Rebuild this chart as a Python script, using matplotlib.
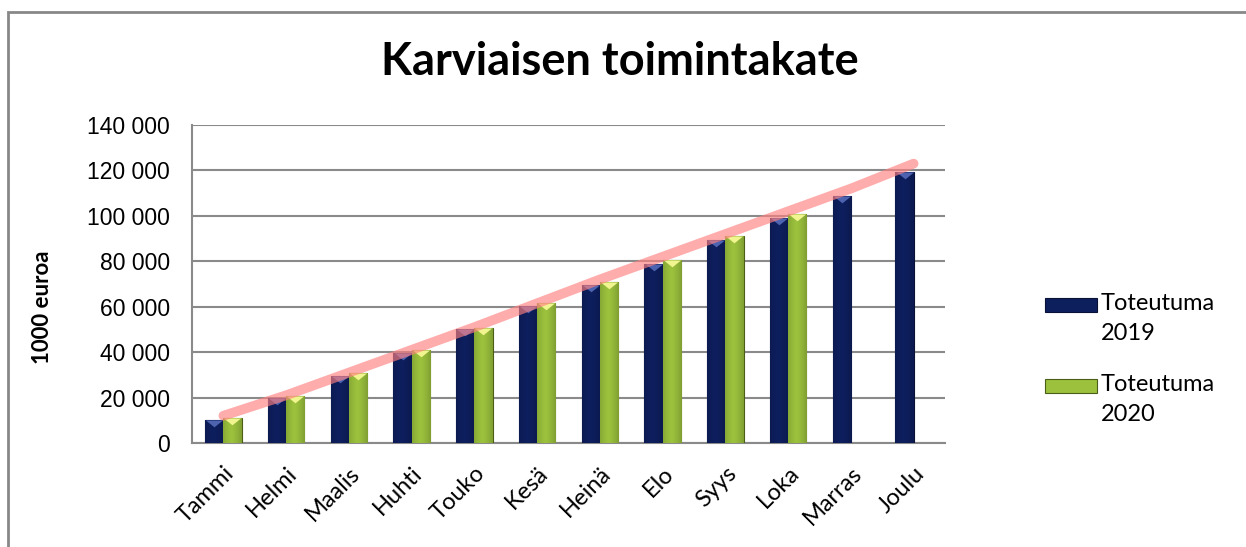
import numpy as np
import matplotlib.pyplot as plt
from matplotlib.patches import Rectangle

# kuukaudet ja toteumat (1000 euroa), luettu kuvasta
months = ["Tammi", "Helmi", "Maalis", "Huhti", "Touko", "Kesä",
          "Heinä", "Elo", "Syys", "Loka", "Marras", "Joulu"]
toteutuma_2019 = [10200, 19800, 29700, 39600, 50000, 60400,
                  69500, 79000, 89200, 99000, 108700, 119300]
toteutuma_2020 = [11000, 20700, 30800, 41000, 50600, 61700,
                  70900, 80500, 91300, 101000]
trendi = [12000, 21000, 31000, 41000, 51000, 61500,
          72000, 82000, 92000, 102000, 112000, 123000]
yticks = [0, 20000, 40000, 60000, 80000, 100000, 120000, 140000]
sarjat = ["Toteutuma\n2019", "Toteutuma\n2020"]

plt.rcParams['font.family'] = ['Lato', 'DejaVu Sans']

fig = plt.figure(figsize=(12.46, 5.47), dpi=100)
ax = fig.add_axes([192 / 1246, 104 / 547, 753 / 1246, 318 / 547])

x = np.arange(len(months))
w = 0.29
blue = '#0e1f5e'
green = '#9cc23d'
b1 = ax.bar(x[:len(toteutuma_2019)] - w / 2, toteutuma_2019, w,
            color=blue, edgecolor='#081236', lw=0.8, zorder=3)
b2 = ax.bar(x[:len(toteutuma_2020)] + w / 2, toteutuma_2020, w,
            color=green, edgecolor='#4a5e18', lw=0.8, zorder=3)

# varjostus pylväisiin (kevyt sylinterimäinen liukuvärjäys)
grad = np.linspace(0, 1, 64)
shade = 1 - 0.45 * np.abs(grad - 0.45) ** 1.5
for bars, base in ((b1, (0.055, 0.12, 0.37)), (b2, (0.61, 0.76, 0.24))):
    img = np.clip(np.ones((1, 64, 3)) * np.array(base) * shade[None, :, None], 0, 1)
    for p in bars:
        x0, y0 = p.get_x(), p.get_y()
        im = ax.imshow(img, extent=[x0, x0 + p.get_width(), y0, y0 + p.get_height()],
                       aspect='auto', zorder=3.5, interpolation='bilinear')
        im.set_clip_path(p)

# viiste pylväiden yläpäähän
tri = [(-1, 0), (1, 0), (0, -0.8), (-1, 0)]
ax.scatter(x[:len(toteutuma_2019)] - w / 2, toteutuma_2019, marker=tri, s=150,
           color='#4d63b0', lw=0, zorder=4)
ax.scatter(x[:len(toteutuma_2020)] + w / 2, toteutuma_2020, marker=tri, s=150,
           color='#f0f590', lw=0, zorder=4)

ax.plot(x, trendi, color='#ff8080', lw=7, alpha=0.65, solid_capstyle='round',
        zorder=5)

ax.set_xlim(-0.5, len(months) - 0.5)
ax.set_ylim(0, 140000)
ax.set_yticks(yticks)
ax.set_yticklabels([f"{v:,}".replace(",", " ") for v in yticks],
                   fontsize=16.5, family='Liberation Sans')
ax.set_xticks(x)
ax.set_xticklabels(months, rotation=45, ha='right', rotation_mode='anchor',
                   fontsize=17)
ax.tick_params(axis='y', length=0, pad=16)
ax.tick_params(axis='x', length=0, pad=14)
ax.grid(axis='y', color='#8a8a8a', lw=1.5, zorder=0)
ax.set_axisbelow(True)
for s in ['top', 'right']:
    ax.spines[s].set_visible(False)
for s in ['left', 'bottom']:
    ax.spines[s].set_color('#8a8a8a')
    ax.spines[s].set_linewidth(1.5)

ax.set_ylabel('1000 euroa', fontsize=16, fontweight='bold')
ax.yaxis.set_label_coords((53 - 192) / 753, (443 - 307) / 318)
fig.text(620 / 1246, 1 - 62 / 547, 'Karviaisen toimintakate', ha='center',
         va='center', fontsize=32.5, fontweight='bold')

# selite käsin: laatikko ensimmäisen rivin kohdalle
for i, (lab, col, ec) in enumerate(zip(sarjat, [blue, green], ['#081236', '#4a5e18'])):
    yc = 305 + i * 81
    fig.patches.append(Rectangle((1045 / 1246, 1 - (yc + 7) / 547), 52 / 1246, 14 / 547,
                                 transform=fig.transFigure, facecolor=col,
                                 edgecolor=ec, lw=0.8))
    fig.text(1101 / 1246, 1 - (yc - 12) / 547, lab, ha='left', va='top',
             fontsize=17, linespacing=1.55)

# kehys
fig.patches.append(Rectangle((8 / 1246, -0.1), 1.1, 1.1 - 12 / 547,
                             transform=fig.transFigure, fill=False,
                             edgecolor='#888888', lw=2))

fig.savefig('out.png', dpi=100)
